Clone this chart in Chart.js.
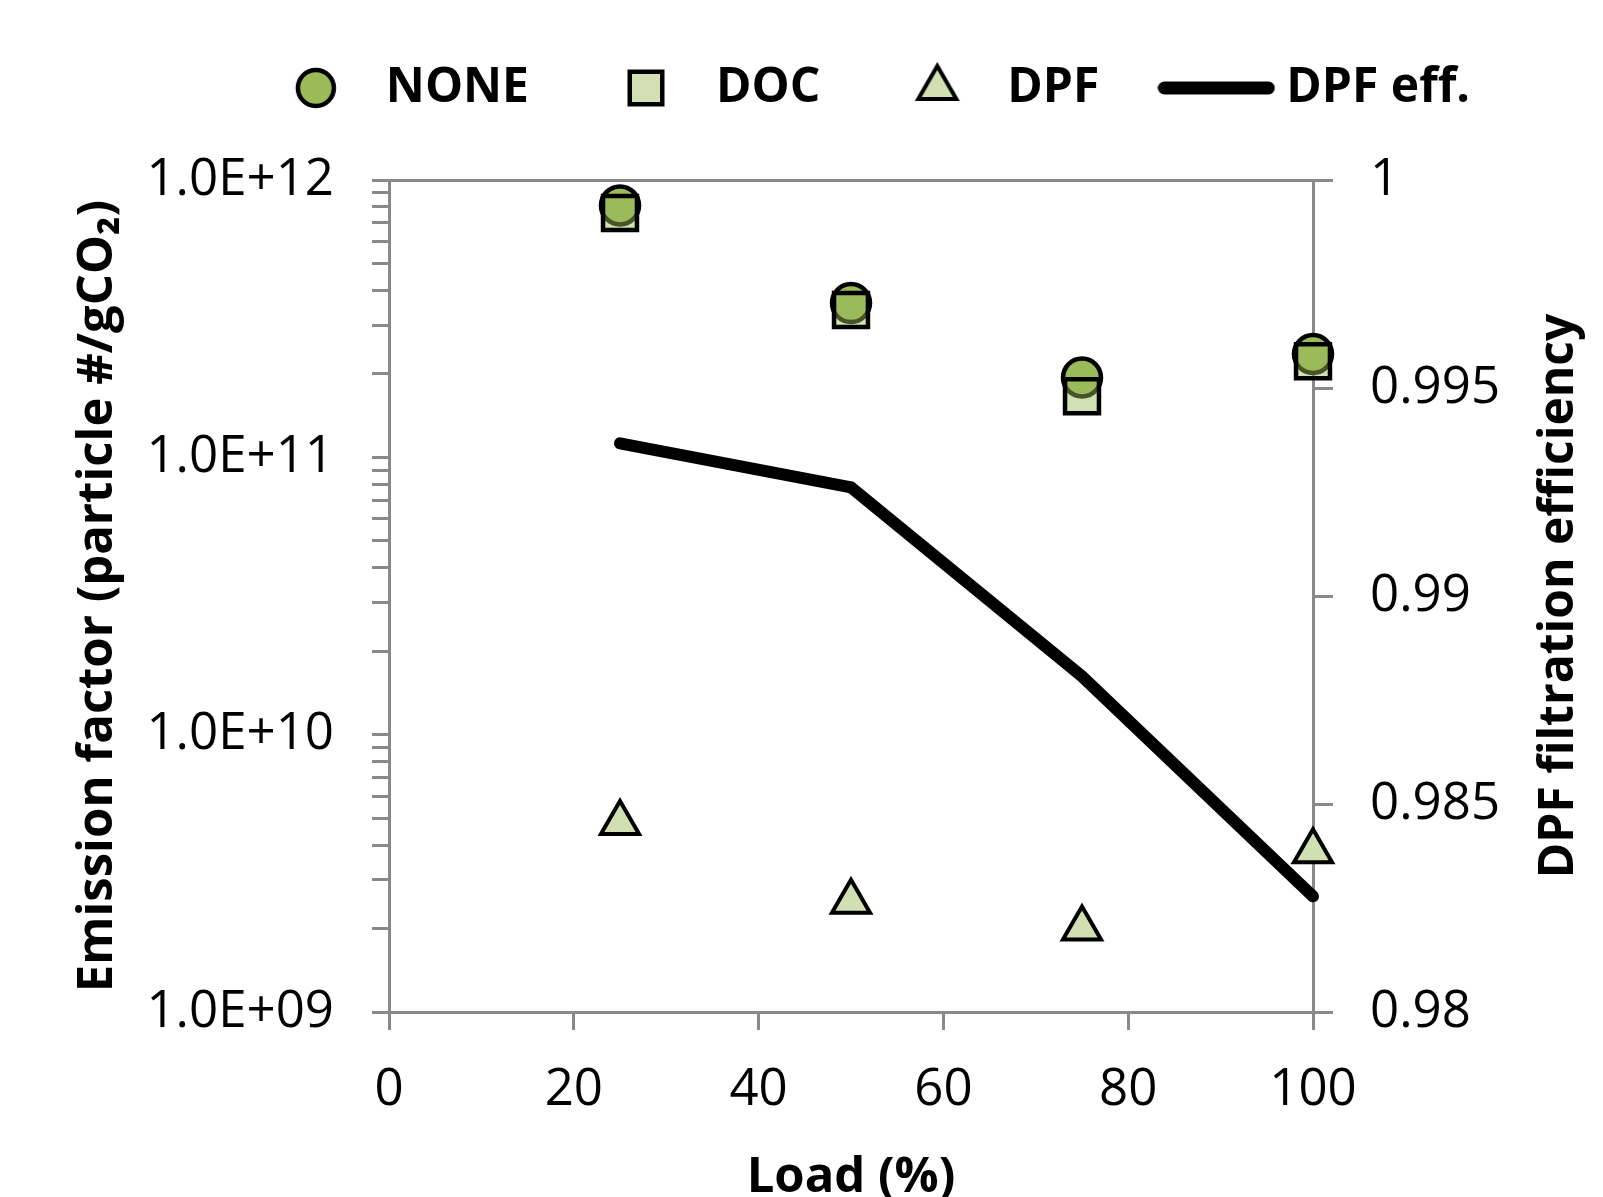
<!DOCTYPE html>
<html>
<head>
<meta charset="utf-8">
<script src="https://cdn.jsdelivr.net/npm/chart.js@4/dist/chart.umd.min.js"></script>
<style>
  html, body { margin: 0; padding: 0; background: #fff; }
</style>
</head>
<body>
<canvas id="myChart" width="1603" height="1197"></canvas>
<script>
// data
var loads = [25, 50, 75, 100];
var efNone = [8.1e11, 3.6e11, 1.94e11, 2.36e11];
var efDoc = [7.6e11, 3.4e11, 1.66e11, 2.22e11];
var efDpf = [4.8e9, 2.5e9, 2.0e9, 3.8e9];
var dpfEff = [0.99367, 0.99261, 0.98807, 0.98278];

var seriesNames = ['NONE', 'DOC', 'DPF', 'DPF eff.'];
var xTitle = 'Load (%)';
var yTitle = 'Emission factor (particle #/gCO\u2082)';
var y2Title = 'DPF filtration efficiency';

var axisGray = '#898989';
var fontFam = "'Open Sans', 'DejaVu Sans', sans-serif";

Chart.defaults.font.family = fontFam;
Chart.defaults.color = '#000';

function pts(ys) {
    return loads.map(function (x, i) { return { x: x, y: ys[i] }; });
}

// 1e9 -> "1.0E+09"
function sciLabel(v) {
    var s = v.toExponential(1).toUpperCase();
    return s.replace(/E([+-])(\d)$/, 'E$10$2');
}

// legend markers drawn with the library's own point helper
function markerImg(style, radius, fill, bw) {
    var c = document.createElement('canvas');
    c.width = c.height = Math.ceil(radius * 2 + 12);
    var g = c.getContext('2d');
    g.fillStyle = fill;
    g.strokeStyle = '#000';
    g.lineWidth = bw;
    Chart.helpers.drawPoint(g, { pointStyle: style, radius: radius, borderWidth: bw, rotation: 0 }, c.width / 2, c.height / 2);
    return c;
}
function lineImg() {
    var c = document.createElement('canvas');
    c.width = 118; c.height = 16;
    var g = c.getContext('2d');
    g.strokeStyle = '#000';
    g.lineWidth = 13;
    g.lineCap = 'round';
    g.beginPath(); g.moveTo(7, 8); g.lineTo(111, 8); g.stroke();
    return c;
}

var noneFill = '#9BBB59';
var docFill = 'rgba(155,187,89,0.45)';
var dpfFill = '#D1E0B2';

var legendMarks = [
    markerImg('circle', 18, noneFill, 4.5),
    markerImg('rect', 23, docFill, 4.5),
    markerImg('triangle', 22, dpfFill, 4),
    lineImg()
];

var rightTitle = {
    id: 'rightTitle',
    afterDraw: function (chart) {
        var c = chart.ctx, a = chart.chartArea;
        c.save();
        c.translate(1559, (a.top + a.bottom) / 2);
        c.rotate(-Math.PI / 2);
        c.font = 'bold 48px ' + fontFam;
        c.fillStyle = '#000';
        c.textAlign = 'center';
        c.textBaseline = 'middle';
        c.fillText(y2Title, 0, 0);
        c.restore();
    }
};

var ctx = document.getElementById('myChart').getContext('2d');
var myChart = new Chart(ctx, {
    data: {
        datasets: [{
            type: 'scatter',
            label: seriesNames[0],
            data: pts(efNone),
            yAxisID: 'y',
            pointStyle: 'circle',
            pointRadius: 19,
            pointBorderWidth: 4.5,
            backgroundColor: noneFill,
            borderColor: '#000',
            clip: false,
            order: 2
        }, {
            type: 'scatter',
            label: seriesNames[1],
            data: pts(efDoc),
            yAxisID: 'y',
            pointStyle: 'rect',
            pointRadius: 24,
            pointBorderWidth: 4.5,
            backgroundColor: docFill,
            borderColor: '#000',
            clip: false,
            order: 1
        }, {
            type: 'scatter',
            label: seriesNames[2],
            data: pts(efDpf),
            yAxisID: 'y',
            pointStyle: 'triangle',
            pointRadius: 22,
            pointBorderWidth: 4,
            backgroundColor: dpfFill,
            borderColor: '#000',
            clip: false,
            order: 3
        }, {
            type: 'line',
            label: seriesNames[3],
            data: pts(dpfEff),
            yAxisID: 'y2',
            borderColor: '#000',
            borderWidth: 12,
            borderCapStyle: 'round',
            pointRadius: 0,
            tension: 0,
            fill: false,
            clip: false,
            order: 0
        }]
    },
    options: {
        responsive: false,
        animation: false,
        events: [],
        layout: { padding: { top: -7, right: 62, bottom: -6, left: 0 } },
        plugins: {
            tooltip: { enabled: false },
            title: {
                display: true,
                text: '',
                weight: 500,
                padding: 0,
                font: { size: 58, lineHeight: 1 }
            },
            legend: {
                position: 'top',
                align: 'end',
                labels: {
                    usePointStyle: true,
                    pointStyleWidth: 92,
                    padding: 71,
                    color: '#000',
                    font: { size: 48, weight: 'bold' },
                    generateLabels: function () {
                        return seriesNames.map(function (n, i) {
                            return { text: n, pointStyle: legendMarks[i], lineWidth: 0, hidden: false, datasetIndex: i, fontColor: '#000' };
                        });
                    }
                }
            }
        },
        scales: {
            x: {
                type: 'linear',
                position: 'bottom',
                min: 0,
                max: 100,
                ticks: { stepSize: 20, padding: 30, color: '#000', font: { size: 51 } },
                grid: { drawOnChartArea: false, tickLength: 18, color: axisGray, lineWidth: 3 },
                border: { color: axisGray, width: 3 },
                title: { display: true, text: xTitle, color: '#000', padding: { top: 0, bottom: 0 }, font: { size: 49, weight: 'bold', lineHeight: 1 } },
                afterFit: function (s) { s.height = 191; }
            },
            y: {
                type: 'logarithmic',
                position: 'left',
                min: 1e9,
                max: 1e12,
                afterBuildTicks: function (s) {
                    s.ticks = s.ticks.filter(function (t) {
                        var m = t.value / Math.pow(10, Math.floor(Math.log10(t.value) + 1e-9));
                        return Math.abs(m - Math.round(m)) < 1e-6;
                    });
                },
                ticks: {
                    autoSkip: false,
                    padding: 38,
                    color: '#000',
                    font: { size: 51 },
                    callback: function (v) {
                        var e = Math.log10(v);
                        return Math.abs(e - Math.round(e)) < 1e-9 ? sciLabel(v) : '';
                    }
                },
                grid: { drawOnChartArea: false, tickLength: 17, color: axisGray, lineWidth: 3 },
                border: { color: axisGray, width: 3 },
                title: { display: true, text: yTitle, color: '#000', padding: { top: 74, bottom: 0 }, font: { size: 49, weight: 'bold', lineHeight: 1 } },
                afterFit: function (s) { s.width = 389; }
            },
            y2: {
                type: 'linear',
                position: 'right',
                min: 0.98,
                max: 1,
                ticks: {
                    stepSize: 0.005,
                    padding: 37,
                    color: '#000',
                    font: { size: 51 },
                    callback: function (v) { return String(+v.toFixed(3)); }
                },
                grid: {
                    drawOnChartArea: true,
                    tickLength: 20,
                    lineWidth: 3,
                    tickColor: axisGray,
                    color: function (c) { return c.tick && Math.abs(c.tick.value - 1) < 1e-9 ? axisGray : 'rgba(0,0,0,0)'; }
                },
                border: { color: axisGray, width: 3 },
                afterFit: function (s) { s.width = 228; }
            }
        }
    },
    plugins: [rightTitle]
});
</script>
</body>
</html>
